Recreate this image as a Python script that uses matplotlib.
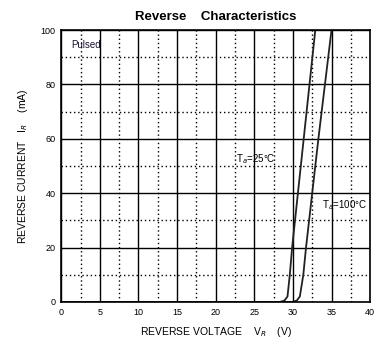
import matplotlib.pyplot as plt
from matplotlib.ticker import MultipleLocator

plt.rcParams["font.family"] = ["Liberation Sans", "DejaVu Sans"]

# courbes (V en volts, I en mA)
v_25 = [0, 28.3, 28.9, 29.3, 29.6, 29.9, 30.65, 31.4, 32.15, 32.9]
i_25 = [0, 0, 0.5, 2, 10, 20, 40, 60, 80, 100]
v_100 = [0, 29.9, 30.5, 30.9, 31.35, 31.7, 32.5, 33.3, 34.15, 35.0]
i_100 = [0, 0, 0.5, 2, 10, 20, 40, 60, 80, 100]

x_ticks = [0, 5, 10, 15, 20, 25, 30, 35, 40]
y_ticks = [0, 20, 40, 60, 80, 100]

fig = plt.figure(figsize=(3.9, 3.54), dpi=100)
ax = fig.add_axes([0.157, 0.147, 0.792, 0.768])

ax.plot(v_25, i_25, color="#222222", lw=1.3)
ax.plot(v_100, i_100, color="#222222", lw=1.3)

ax.set_xlim(0, 40)
ax.set_ylim(0, 100)
ax.set_xticks(x_ticks)
ax.set_yticks(y_ticks)
ax.xaxis.set_minor_locator(MultipleLocator(2.5))
ax.yaxis.set_minor_locator(MultipleLocator(10))
ax.grid(which="major", color="black", lw=1.0, ls="-")
ax.grid(which="minor", color="black", lw=1.0, ls=(0, (1, 2)))
ax.tick_params(which="both", length=0, labelsize=6.5, pad=4)
for s in ax.spines.values():
    s.set_linewidth(1.2)

ax.text(1.3, 94.5, "Pulsed", fontsize=7, va="center", color="#1a1030")
ax.text(22.6, 52.5, "T$_{a}$=25°C", fontsize=7, va="center")
ax.text(33.8, 35.5, "T$_{a}$=100°C", fontsize=7, va="center")

ax.set_title("Reverse    Characteristics", fontsize=9.5, fontweight="bold", pad=7)
ax.set_xlabel("REVERSE VOLTAGE    V$_{R}$    (V)", fontsize=7.5, labelpad=6)
ax.set_ylabel("REVERSE CURRENT   I$_{R}$    (mA)", fontsize=7.5, labelpad=8)

plt.savefig("out.png", dpi=100)
